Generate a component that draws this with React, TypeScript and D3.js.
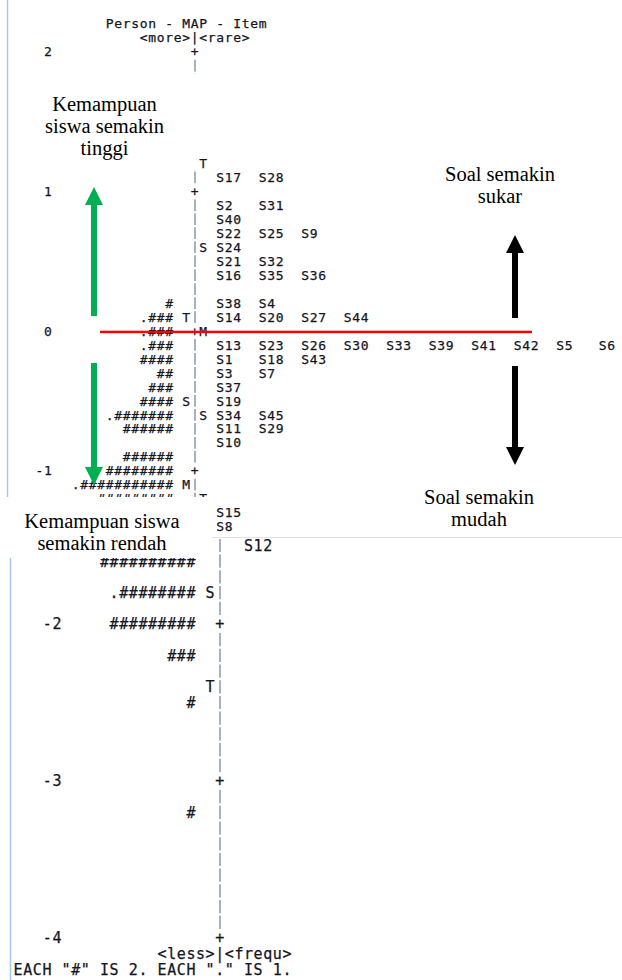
import React from 'react'
import * as d3 from 'd3'

const width = 622
const height = 980

// logit levels printed on the left of the map
const logitTicks = [2, 1, 0, -1, -2, -3, -4]

// persons: one row every 0.1 logit, "#" = 2 persons, "." = 1
const personRows: [number, string][] = [
  [0.2, '#'],
  [0.1, '.###'],
  [0, '.###'],
  [-0.1, '.###'],
  [-0.2, '####'],
  [-0.3, '##'],
  [-0.4, '###'],
  [-0.5, '####'],
  [-0.6, '.#######'],
  [-0.7, '######'],
  [-0.9, '######'],
  [-1.0, '########'],
  [-1.1, '.###########'],
  [-1.2, '#########'],
  [-1.6, '##########'],
  [-1.8, '.########'],
  [-2.0, '#########'],
  [-2.2, '###'],
  [-2.5, '#'],
  [-3.2, '#'],
]

const personMarks: [number, string][] = [
  [0.1, 'T'],
  [-0.5, 'S'],
  [-1.1, 'M'],
  [-1.8, 'S'],
  [-2.4, 'T'],
]

const itemMarks: [number, string][] = [
  [1.2, 'T'],
  [0.6, 'S'],
  [0, 'M'],
  [-0.6, 'S'],
  [-1.2, 'T'],
]

const itemRows: [number, string[]][] = [
  [1.1, ['S17', 'S28']],
  [0.9, ['S2', 'S31']],
  [0.8, ['S40']],
  [0.7, ['S22', 'S25', 'S9']],
  [0.6, ['S24']],
  [0.5, ['S21', 'S32']],
  [0.4, ['S16', 'S35', 'S36']],
  [0.2, ['S38', 'S4']],
  [0.1, ['S14', 'S20', 'S27', 'S44']],
  [-0.1, ['S13', 'S23', 'S26', 'S30', 'S33', 'S39', 'S41', 'S42', 'S5', 'S6']],
  [-0.2, ['S1', 'S18', 'S43']],
  [-0.3, ['S3', 'S7']],
  [-0.4, ['S37']],
  [-0.5, ['S19']],
  [-0.6, ['S34', 'S45']],
  [-0.7, ['S11', 'S29']],
  [-0.8, ['S10']],
  [-1.3, ['S15']],
  [-1.4, ['S8']],
  [-1.5, ['S12']],
]

const mono = '"DejaVu Sans Mono", monospace'
const serif = '"Liberation Serif", "Times New Roman", serif'
const ink = '#15151f'
const barColor = '#6b7f99'
const green = '#00b050'

// the picture is two pasted screenshots of the same map at different zoom
const panels = [
  {
    key: 'upper',
    barX: 195,
    cw: 8.5,
    fontSize: 13,
    tickRight: 52.5,
    rows: d3.range(20, -15, -1).map((i) => i / 10),
    y: d3.scaleLinear().domain([0, -1]).range([331, 470.7]),
    clipTop: 0,
    clipBottom: 537,
    has: (m: number) => m >= -1.45,
  },
  {
    key: 'lower',
    barX: 220,
    cw: 9.6,
    fontSize: 15,
    tickRight: 62,
    rows: d3.range(-15, -41, -1).map((i) => i / 10),
    y: d3.scaleLinear().domain([-2, -4]).range([624, 938]),
    clipTop: 537,
    clipBottom: height,
    has: (m: number) => m < -1.45,
  },
]

type Panel = (typeof panels)[number]

function Mono({ p, x, y, text, fill = ink }: { p: Panel; x: number; y: number; text: string; fill?: string }) {
  const spacing = p.cw - p.fontSize * 0.602
  return (
    <text
      x={x}
      y={y}
      dy="0.36em"
      fontFamily={mono}
      fontSize={p.fontSize}
      letterSpacing={spacing}
      fill={fill}
      stroke={fill}
      strokeWidth={0.25}
      style={{ whiteSpace: 'pre' }}
    >
      {text}
    </text>
  )
}

function MapPanel({ p }: { p: Panel }) {
  // column c relative to the bar -> left edge of that character cell
  const col = (c: number) => p.barX + (c - 0.5) * p.cw
  const rowH = Math.abs(p.y(0.1) - p.y(0))
  const isLower = p.key === 'lower'
  return (
    <g clipPath={`url(#clip-${p.key})`}>
      {isLower ? (
        <>
          <Mono p={p} x={col(-6)} y={p.y(-4.1)} text="<less>|<frequ>" />
          <Mono p={p} x={col(-21)} y={p.y(-4.2)} text={'EACH "#" IS 2. EACH "." IS 1.'} />
        </>
      ) : (
        <>
          <Mono p={p} x={col(-10)} y={p.y(2.2)} text="Person - MAP - Item" />
          <Mono p={p} x={col(-6)} y={p.y(2.1)} text="<more>|<rare>" />
        </>
      )}
      {p.rows.map((m) => {
        const isInt = Math.abs(m - Math.round(m)) < 1e-6
        const yc = p.y(m)
        return isInt ? (
          <Mono key={`bar${m}`} p={p} x={col(0)} y={yc} text="+" />
        ) : (
          <line
            key={`bar${m}`}
            x1={p.barX}
            x2={p.barX}
            y1={yc - rowH * 0.42}
            y2={yc + rowH * 0.42}
            stroke={barColor}
            strokeWidth={1.2}
          />
        )
      })}
      {logitTicks.filter(p.has).map((t) => {
        const s = String(t)
        return <Mono key={`t${t}`} p={p} x={p.tickRight - s.length * p.cw} y={p.y(t)} text={s} />
      })}
      {personRows
        .filter(([m]) => p.has(m))
        .map(([m, s]) => (
          <Mono key={`p${m}`} p={p} x={col(-2 - s.length)} y={p.y(m)} text={s} />
        ))}
      {personMarks
        .filter(([m]) => p.has(m))
        .map(([m, s]) => (
          <Mono key={`pm${m}`} p={p} x={col(-1)} y={p.y(m)} text={s} />
        ))}
      {itemMarks
        .filter(([m]) => p.has(m))
        .map(([m, s]) => (
          <Mono key={`im${m}`} p={p} x={col(1)} y={p.y(m)} text={s} />
        ))}
      {itemRows
        .filter(([m]) => p.has(m))
        .map(([m, items]) =>
          items.map((s, j) => <Mono key={`i${m}-${s}`} p={p} x={col(3 + 5 * j)} y={p.y(m)} text={s} />)
        )}
    </g>
  )
}

function Arrow({ x, y0, y1, color }: { x: number; y0: number; y1: number; color: string }) {
  // y0 = tail, y1 = tip
  const dir = y1 < y0 ? -1 : 1
  const headLen = 18
  const base = y1 - dir * headLen
  return (
    <g fill={color}>
      <rect x={x - 3} y={Math.min(y0, base)} width={6} height={Math.abs(base - y0)} />
      <path d={`M${x - 9},${base} L${x + 9},${base} L${x},${y1} Z`} />
    </g>
  )
}

function Label({ x, lines, baseline }: { x: number; lines: string[]; baseline: number }) {
  return (
    <text x={x} y={baseline} fontFamily={serif} fontSize={20.5} fill="#000" textAnchor="middle">
      {lines.map((l, i) => (
        <tspan key={l} x={x} dy={i === 0 ? 0 : 22}>
          {l}
        </tspan>
      ))}
    </text>
  )
}

export default function App() {
  const upper = panels[0]
  return (
    <svg
      width={width}
      height={height}
      style={{ position: 'absolute', left: 0, top: 0, background: '#fff', display: 'block' }}
    >
      <defs>
        {panels.map((p) => (
          <clipPath id={`clip-${p.key}`} key={p.key}>
            <rect x={0} y={p.clipTop} width={width} height={p.clipBottom - p.clipTop} />
          </clipPath>
        ))}
      </defs>
      <rect width={width} height={height} fill="#fff" />

      {/* window edges of the two screenshots */}
      <line x1={7.5} x2={7.5} y1={0} y2={497} stroke="#a6c8e8" strokeWidth={1.5} />
      <line x1={10.5} x2={10.5} y1={558} y2={height} stroke="#a6c8e8" strokeWidth={1.5} />

      {panels.map((p) => (
        <MapPanel key={p.key} p={p} />
      ))}

      <line x1={210} x2={width} y1={537.5} y2={537.5} stroke="#e2e2e2" strokeWidth={1} />

      {/* annotation boxes */}
      <rect x={12} y={74} width={187} height={95} fill="#fff" />
      <Label x={104.5} baseline={111} lines={['Kemampuan', 'siswa semakin', 'tinggi']} />
      <rect x={0} y={497} width={212} height={61} fill="#fff" />
      <Label x={102} baseline={528} lines={['Kemampuan siswa', 'semakin rendah']} />

      <Label x={500} baseline={181} lines={['Soal semakin', 'sukar']} />
      <Label x={479} baseline={504} lines={['Soal semakin', 'mudah']} />

      <line x1={100} x2={532} y1={upper.y(0) + 1} y2={upper.y(0) + 1} stroke="#ff0000" strokeWidth={2.5} />

      <Arrow x={94} y0={316} y1={187} color={green} />
      <Arrow x={94} y0={363} y1={485} color={green} />
      <Arrow x={515} y0={318} y1={235} color="#000" />
      <Arrow x={515} y0={366} y1={465} color="#000" />
    </svg>
  )
}
